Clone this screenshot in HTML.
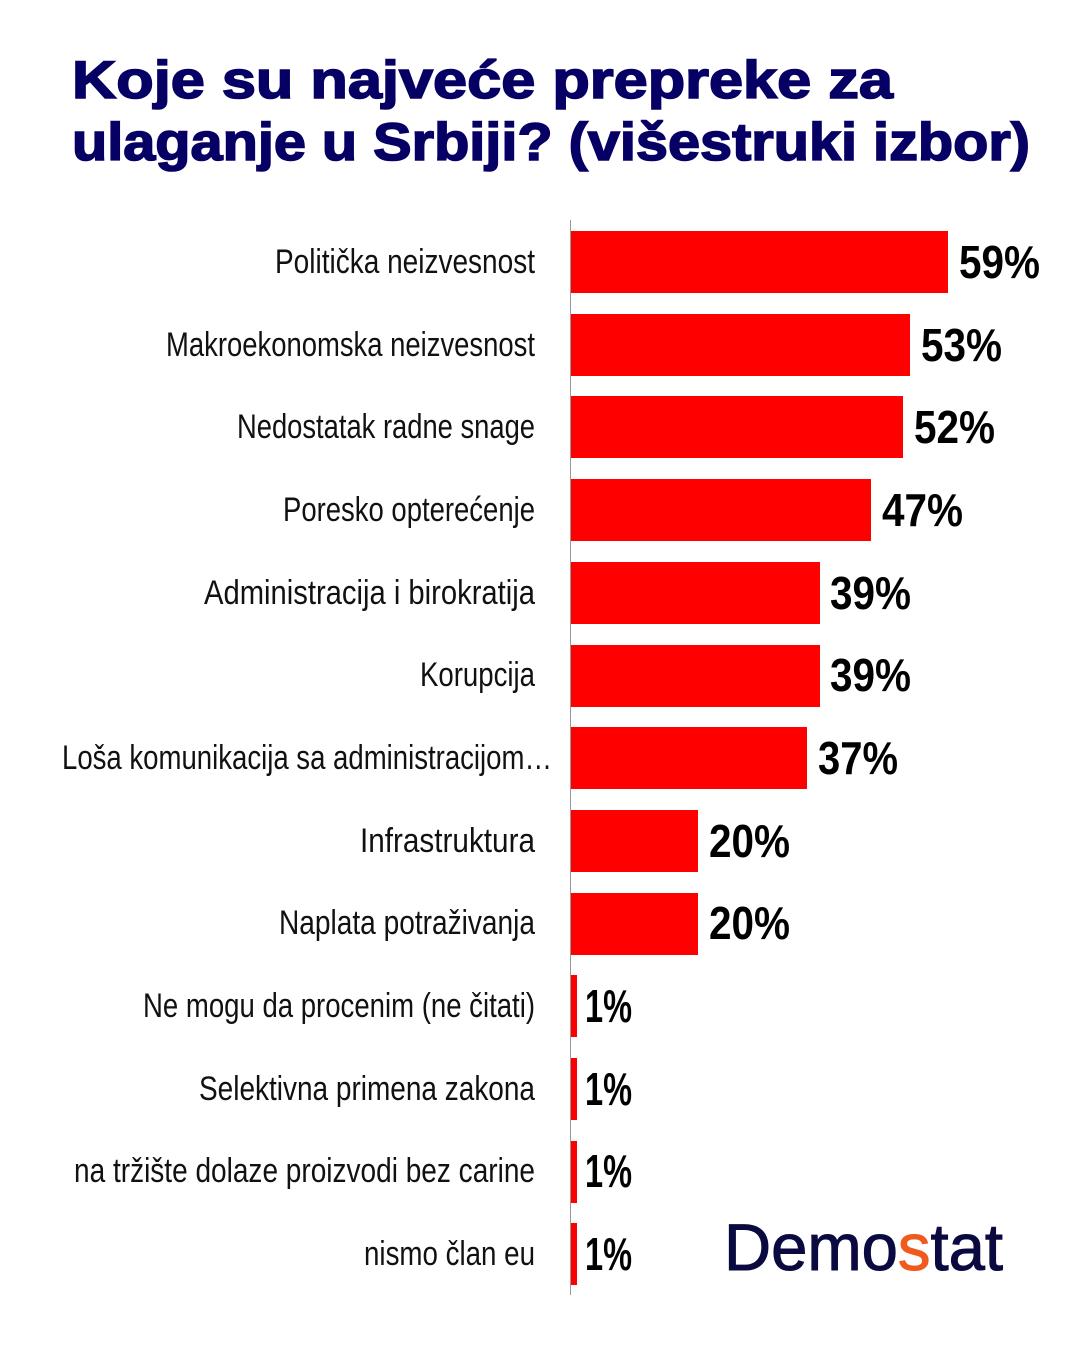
<!DOCTYPE html>
<html><head><meta charset="utf-8"><style>html,body{margin:0;padding:0;background:#fff}svg{display:block}</style></head>
<body>
<svg width="1080" height="1349" viewBox="0 0 1080 1349" xmlns="http://www.w3.org/2000/svg">
<rect width="1080" height="1349" fill="#fff"/>
<g font-family="Liberation Sans, Arial, sans-serif" font-weight="bold" fill="#060064" stroke="#060064" stroke-width="1.6" font-size="53">
<text x="72" y="98" textLength="821" lengthAdjust="spacingAndGlyphs">Koje su najveće prepreke za</text>
<text x="72" y="160" textLength="958" lengthAdjust="spacingAndGlyphs">ulaganje u Srbiji? (višestruki izbor)</text>
</g>
<line x1="570.5" y1="220" x2="570.5" y2="1295" stroke="#999" stroke-width="1"/>
<g fill="#ff0000">
<rect x="571" y="231" width="377" height="62"/>
<rect x="571" y="314" width="339" height="62"/>
<rect x="571" y="396" width="332" height="62"/>
<rect x="571" y="479" width="300" height="62"/>
<rect x="571" y="562" width="249" height="62"/>
<rect x="571" y="645" width="249" height="62"/>
<rect x="571" y="727" width="236" height="62"/>
<rect x="571" y="810" width="127" height="62"/>
<rect x="571" y="893" width="127" height="62"/>
<rect x="571" y="975" width="6" height="62"/>
<rect x="571" y="1058" width="6" height="62"/>
<rect x="571" y="1141" width="6" height="62"/>
<rect x="571" y="1223" width="6" height="62"/>
</g>
<g font-family="Liberation Sans, Arial, sans-serif" font-size="34" fill="#111">
<text x="275" y="273" textLength="260" lengthAdjust="spacingAndGlyphs">Politička neizvesnost</text>
<text x="166" y="356" textLength="369" lengthAdjust="spacingAndGlyphs">Makroekonomska neizvesnost</text>
<text x="237" y="438" textLength="298" lengthAdjust="spacingAndGlyphs">Nedostatak radne snage</text>
<text x="283" y="521" textLength="252" lengthAdjust="spacingAndGlyphs">Poresko opterećenje</text>
<text x="204" y="604" textLength="331" lengthAdjust="spacingAndGlyphs">Administracija i birokratija</text>
<text x="420" y="686" textLength="115" lengthAdjust="spacingAndGlyphs">Korupcija</text>
<text x="62" y="769" textLength="490" lengthAdjust="spacingAndGlyphs">Loša komunikacija sa administracijom…</text>
<text x="360" y="852" textLength="175" lengthAdjust="spacingAndGlyphs">Infrastruktura</text>
<text x="279" y="934" textLength="256" lengthAdjust="spacingAndGlyphs">Naplata potraživanja</text>
<text x="143" y="1017" textLength="392" lengthAdjust="spacingAndGlyphs">Ne mogu da procenim (ne čitati)</text>
<text x="199" y="1100" textLength="336" lengthAdjust="spacingAndGlyphs">Selektivna primena zakona</text>
<text x="74" y="1182" textLength="461" lengthAdjust="spacingAndGlyphs">na tržište dolaze proizvodi bez carine</text>
<text x="364" y="1265" textLength="171" lengthAdjust="spacingAndGlyphs">nismo član eu</text>
</g>
<g font-family="Liberation Sans, Arial, sans-serif" font-size="46" font-weight="bold" fill="#000">
<text x="959" y="278" textLength="81" lengthAdjust="spacingAndGlyphs">59%</text>
<text x="921" y="361" textLength="81" lengthAdjust="spacingAndGlyphs">53%</text>
<text x="914" y="443" textLength="81" lengthAdjust="spacingAndGlyphs">52%</text>
<text x="882" y="526" textLength="81" lengthAdjust="spacingAndGlyphs">47%</text>
<text x="830" y="609" textLength="81" lengthAdjust="spacingAndGlyphs">39%</text>
<text x="830" y="691" textLength="81" lengthAdjust="spacingAndGlyphs">39%</text>
<text x="818" y="774" textLength="80" lengthAdjust="spacingAndGlyphs">37%</text>
<text x="709" y="857" textLength="81" lengthAdjust="spacingAndGlyphs">20%</text>
<text x="709" y="939" textLength="81" lengthAdjust="spacingAndGlyphs">20%</text>
<text x="585" y="1022" textLength="47" lengthAdjust="spacingAndGlyphs">1%</text>
<text x="585" y="1105" textLength="47" lengthAdjust="spacingAndGlyphs">1%</text>
<text x="585" y="1187" textLength="47" lengthAdjust="spacingAndGlyphs">1%</text>
<text x="585" y="1270" textLength="47" lengthAdjust="spacingAndGlyphs">1%</text>
</g>
<text x="724" y="1270" font-family="Liberation Sans, Arial, sans-serif" font-size="66" fill="#0a0a40" stroke="#0a0a40" stroke-width="1" textLength="279" lengthAdjust="spacingAndGlyphs">Demo<tspan fill="#f05a1e" stroke="#f05a1e">s</tspan>tat</text>
</svg>
</body></html>
